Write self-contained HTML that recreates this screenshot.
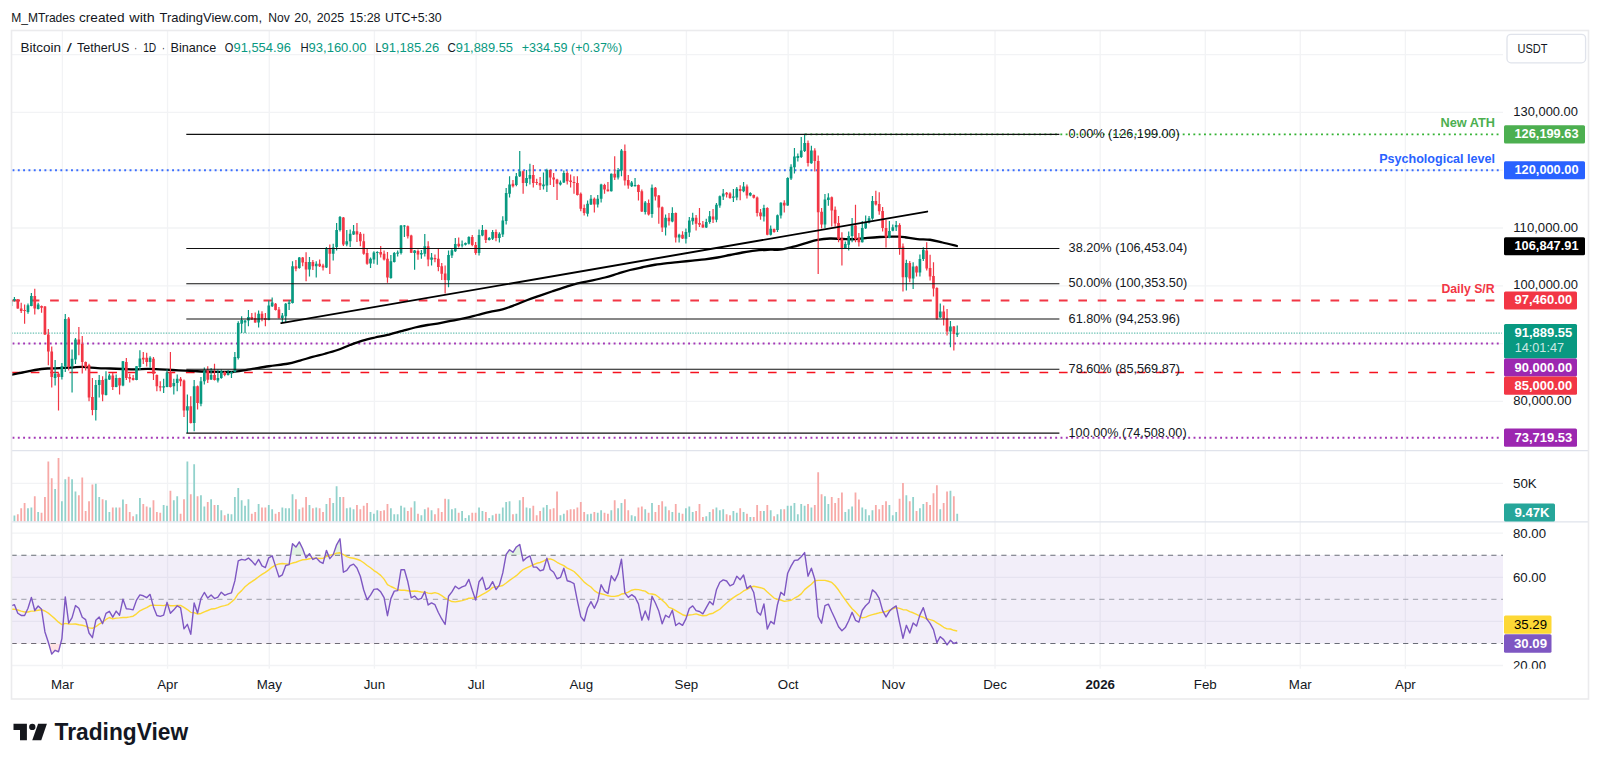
<!DOCTYPE html>
<html><head><meta charset="utf-8"><title>BTCUSDT chart</title>
<style>html,body{margin:0;padding:0;background:#fff;}body{width:1600px;height:766px;overflow:hidden;font-family:'Liberation Sans', sans-serif;}</style>
</head><body>
<svg width="1600" height="766" viewBox="0 0 1600 766" style="display:block"><rect x="0" y="0" width="1600" height="766" fill="#fff"/>
<path d="M62.40 30.5 V668.8 M167.53 30.5 V668.8 M269.28 30.5 V668.8 M374.41 30.5 V668.8 M476.15 30.5 V668.8 M581.28 30.5 V668.8 M686.42 30.5 V668.8 M788.16 30.5 V668.8 M893.29 30.5 V668.8 M995.03 30.5 V668.8 M1100.17 30.5 V668.8 M1205.30 30.5 V668.8 M1300.26 30.5 V668.8 M1405.39 30.5 V668.8 M11.5 401.39 H1503.0 M11.5 343.60 H1503.0 M11.5 285.81 H1503.0 M11.5 228.02 H1503.0 M11.5 170.23 H1503.0 M11.5 112.44 H1503.0 M11.5 54.65 H1503.0 M11.5 483.3 H1503.0 M11.5 533.20 H1503.0 M11.5 577.30 H1503.0 M11.5 621.40 H1503.0 M11.5 665.50 H1503.0" stroke="#f2f3f5" stroke-width="1.33" fill="none"/>
<rect x="11.5" y="555.25" width="1491.5" height="88.20" fill="#7e57c2" fill-opacity="0.1"/>
<path d="M11.5 555.25 H1503.0 M11.5 643.45 H1503.0" stroke="#6a6d78" stroke-width="1.15" stroke-dasharray="5.2 4.6" fill="none"/>
<path d="M11.5 599.35 H1503.0" stroke="#787b86" stroke-opacity="0.55" stroke-width="1.15" stroke-dasharray="5.2 4.6" fill="none"/>
<path d="M12.5 170.23 H1500" stroke="#2962ff" stroke-width="2.0" stroke-dasharray="1.9 3.42" stroke-opacity="0.92" fill="none"/>
<path d="M12.5 343.60 H1500" stroke="#9c27b0" stroke-width="2.0" stroke-dasharray="1.9 3.42" stroke-opacity="0.92" fill="none"/>
<path d="M12.5 437.68 H1500" stroke="#9c27b0" stroke-width="2.0" stroke-dasharray="1.9 3.42" stroke-opacity="0.92" fill="none"/>
<path d="M805 134.40 H1500" stroke="#22ab22" stroke-width="1.8" stroke-dasharray="1.9 3.42" stroke-opacity="0.92" fill="none"/>
<path d="M11.5 333.1 H1502" stroke="#089981" stroke-width="1.33" stroke-dasharray="1.33 1.33" stroke-opacity="0.62" fill="none"/>
<path d="M11.3 300.49 H1495" stroke="#f23645" stroke-width="2.15" stroke-dasharray="8.7 10.7" fill="none"/>
<path d="M11.3 372.50 H1495" stroke="#f5121f" stroke-width="1.35" stroke-dasharray="8.7 10.7" fill="none"/>
<defs><clipPath id="cp"><rect x="11.5" y="30.5" width="1491.5" height="638.3"/></clipPath></defs>
<g clip-path="url(#cp)">
<path d="M10.00 375.00 C12.08 374.58 18.33 373.33 22.50 372.50 C26.67 371.67 30.83 370.67 35.00 370.00 C39.17 369.33 43.33 368.80 47.50 368.50 C51.67 368.20 55.83 368.37 60.00 368.20 C64.17 368.03 68.75 367.72 72.50 367.50 C76.25 367.28 78.33 366.80 82.50 366.90 C86.67 367.00 92.92 367.83 97.50 368.10 C102.08 368.37 105.83 368.35 110.00 368.50 C114.17 368.65 118.33 368.85 122.50 369.00 C126.67 369.15 130.83 369.42 135.00 369.40 C139.17 369.38 143.33 368.90 147.50 368.90 C151.67 368.90 155.83 369.22 160.00 369.40 C164.17 369.58 168.33 369.80 172.50 370.00 C176.67 370.20 180.83 370.39 185.00 370.60 C189.17 370.81 193.42 371.08 197.50 371.25 C201.58 371.42 205.42 371.49 209.50 371.60 C213.58 371.71 217.75 371.88 222.00 371.90 C226.25 371.92 230.33 372.12 235.00 371.70 C239.67 371.28 244.38 370.31 250.00 369.40 C255.62 368.49 262.50 367.19 268.75 366.25 C275.00 365.31 282.29 364.69 287.50 363.75 C292.71 362.81 295.83 361.74 300.00 360.60 C304.17 359.46 308.33 358.04 312.50 356.90 C316.67 355.76 320.83 354.90 325.00 353.75 C329.17 352.60 333.33 351.46 337.50 350.00 C341.67 348.54 345.83 346.57 350.00 345.00 C354.17 343.43 358.33 341.85 362.50 340.60 C366.67 339.35 370.83 338.45 375.00 337.50 C379.17 336.55 382.92 336.02 387.50 334.90 C392.08 333.78 397.92 332.03 402.50 330.80 C407.08 329.57 410.83 328.47 415.00 327.50 C419.17 326.53 423.33 325.73 427.50 325.00 C431.67 324.27 435.83 323.83 440.00 323.10 C444.17 322.37 448.33 321.43 452.50 320.60 C456.67 319.77 460.83 319.03 465.00 318.10 C469.17 317.17 473.33 316.03 477.50 315.00 C481.67 313.97 485.83 312.83 490.00 311.90 C494.17 310.97 498.33 310.55 502.50 309.40 C506.67 308.25 510.83 306.57 515.00 305.00 C519.17 303.43 523.33 301.57 527.50 300.00 C531.67 298.43 535.83 297.06 540.00 295.60 C544.17 294.14 548.33 292.67 552.50 291.25 C556.67 289.83 560.83 288.41 565.00 287.10 C569.17 285.79 572.92 284.52 577.50 283.40 C582.08 282.28 587.92 281.38 592.50 280.40 C597.08 279.42 600.83 278.61 605.00 277.50 C609.17 276.39 613.33 275.00 617.50 273.75 C621.67 272.50 625.83 271.08 630.00 270.00 C634.17 268.92 638.33 268.12 642.50 267.25 C646.67 266.38 650.83 265.44 655.00 264.75 C659.17 264.06 663.33 263.58 667.50 263.10 C671.67 262.62 675.83 262.32 680.00 261.90 C684.17 261.48 688.33 261.02 692.50 260.60 C696.67 260.18 700.83 259.92 705.00 259.40 C709.17 258.88 713.33 258.23 717.50 257.50 C721.67 256.77 725.83 255.83 730.00 255.00 C734.17 254.17 738.33 253.23 742.50 252.50 C746.67 251.77 750.83 251.06 755.00 250.60 C759.17 250.14 763.33 249.93 767.50 249.75 C771.67 249.57 775.83 249.97 780.00 249.50 C784.17 249.03 788.33 247.92 792.50 246.90 C796.67 245.88 800.83 244.57 805.00 243.40 C809.17 242.23 813.33 240.72 817.50 239.90 C821.67 239.08 825.83 238.65 830.00 238.50 C834.17 238.35 838.33 238.88 842.50 239.00 C846.67 239.12 850.83 239.38 855.00 239.20 C859.17 239.02 863.33 238.27 867.50 237.90 C871.67 237.53 875.83 237.22 880.00 237.00 C884.17 236.78 889.33 236.67 892.50 236.60 C895.67 236.53 896.92 236.49 899.00 236.60 C901.08 236.71 901.92 236.83 905.00 237.25 C908.08 237.67 913.33 238.68 917.50 239.10 C921.67 239.52 925.83 239.18 930.00 239.75 C934.17 240.32 938.02 241.46 942.50 242.50 C946.98 243.54 954.50 245.42 956.90 246.00" stroke="#000" stroke-width="2.3" stroke-linecap="round" stroke-linejoin="round" fill="none"/>
<path d="M11.03 300.25 V305.90 M14.42 297.10 V301.50 M27.99 303.40 V313.75 M31.38 293.00 V306.25 M38.16 302.75 V309.60 M55.12 360.00 V385.60 M61.90 363.10 V379.40 M65.29 314.00 V371.90 M72.07 349.60 V392.50 M75.47 338.00 V364.00 M95.81 380.00 V420.60 M99.21 375.00 V397.50 M105.99 371.25 V395.60 M109.38 373.75 V380.00 M116.16 374.40 V387.25 M122.95 361.00 V386.25 M136.51 366.00 V380.25 M139.90 350.25 V370.00 M150.08 356.25 V367.75 M163.64 378.75 V393.10 M167.03 369.40 V387.25 M173.82 378.75 V394.40 M177.21 374.40 V391.25 M187.38 394.40 V433.10 M194.16 380.00 V431.25 M200.95 376.90 V406.25 M204.34 367.50 V384.40 M211.12 368.10 V380.00 M217.90 369.40 V382.50 M221.30 369.40 V378.75 M228.08 370.00 V375.60 M231.47 371.25 V378.10 M234.86 351.90 V372.50 M238.25 321.25 V359.40 M241.64 316.25 V333.10 M245.04 320.00 V333.10 M248.43 310.00 V326.25 M258.60 310.60 V327.50 M268.78 300.60 V320.25 M272.17 297.50 V306.90 M282.34 313.10 V321.90 M285.73 303.10 V321.90 M289.12 300.00 V310.00 M292.52 261.25 V303.50 M299.30 256.90 V268.75 M309.47 256.90 V276.50 M316.25 261.25 V277.50 M326.43 246.90 V268.10 M333.21 243.75 V260.60 M336.60 223.10 V250.60 M339.99 216.00 V231.50 M346.78 230.00 V246.25 M350.17 229.40 V246.90 M353.56 225.00 V235.00 M370.52 257.50 V268.10 M373.91 251.25 V263.75 M377.30 251.25 V264.75 M390.87 255.00 V278.75 M394.26 251.90 V262.50 M397.65 250.60 V256.50 M401.04 225.00 V254.40 M404.43 225.00 V236.90 M414.61 250.00 V269.75 M421.39 250.00 V258.75 M424.78 234.00 V256.50 M431.56 253.10 V265.60 M448.52 250.60 V287.20 M451.91 249.00 V258.10 M455.30 238.10 V252.00 M462.09 240.60 V247.50 M465.48 242.50 V245.60 M468.87 236.25 V244.40 M479.04 229.40 V255.60 M482.43 225.00 V236.25 M489.22 236.90 V240.60 M492.61 230.00 V240.00 M499.39 232.25 V242.50 M502.78 216.25 V236.90 M506.17 188.10 V224.40 M509.56 176.25 V197.50 M516.35 173.10 V186.25 M519.74 151.00 V176.90 M526.52 170.00 V186.25 M529.91 163.75 V184.40 M543.48 172.50 V189.40 M546.87 168.75 V191.90 M560.44 180.60 V185.60 M563.83 170.60 V183.10 M587.57 200.60 V216.50 M590.96 195.00 V205.00 M597.74 195.00 V207.50 M601.13 183.75 V202.50 M611.31 173.50 V191.50 M618.09 168.10 V179.40 M621.48 149.00 V176.25 M631.66 181.00 V187.00 M635.05 178.10 V186.50 M645.22 201.00 V214.40 M652.00 184.40 V217.75 M665.57 214.40 V235.60 M672.35 207.25 V222.25 M679.13 233.75 V242.50 M685.92 228.50 V243.50 M689.31 216.90 V236.90 M692.70 212.75 V224.75 M706.27 218.75 V228.10 M709.66 211.00 V223.75 M716.44 203.10 V222.25 M719.83 195.60 V207.75 M723.22 189.00 V200.00 M733.40 189.00 V201.90 M736.79 186.90 V200.25 M743.57 181.90 V192.25 M750.35 192.25 V196.25 M763.92 204.75 V221.50 M770.70 225.60 V235.60 M777.49 214.40 V231.90 M780.88 202.25 V218.50 M787.66 177.25 V205.75 M791.05 164.25 V179.90 M794.44 147.90 V173.50 M797.83 153.50 V161.60 M801.23 137.00 V157.90 M804.62 133.75 V152.00 M811.40 145.75 V163.75 M824.96 194.00 V228.00 M828.36 193.30 V205.80 M845.31 241.60 V248.25 M848.70 231.60 V250.40 M852.10 217.90 V242.25 M862.27 221.00 V242.50 M865.66 215.40 V229.10 M869.05 216.00 V223.50 M872.44 196.00 V219.75 M889.40 221.00 V238.25 M892.79 224.50 V231.25 M896.18 221.00 V231.00 M906.36 259.75 V290.40 M913.14 262.25 V289.10 M919.92 254.50 V276.60 M923.32 247.25 V261.00 M940.27 303.50 V317.90 M950.45 321.00 V347.25 M957.23 325.50 V337.00" stroke="#089981" stroke-width="1.2" fill="none"/>
<path d="M17.81 299.00 V308.75 M21.20 302.75 V313.00 M24.59 304.60 V323.75 M34.77 288.75 V314.60 M41.55 305.50 V312.75 M44.94 305.90 V335.00 M48.33 329.00 V365.25 M51.73 346.50 V387.50 M58.51 373.10 V410.60 M68.68 317.00 V370.60 M78.86 327.10 V355.25 M82.25 335.90 V373.60 M85.64 361.50 V370.60 M89.03 363.75 V401.25 M92.42 378.10 V415.25 M102.60 376.25 V401.25 M112.77 373.10 V390.00 M119.55 377.75 V394.40 M126.34 358.10 V380.00 M129.73 373.75 V382.50 M133.12 375.00 V380.60 M143.29 352.10 V364.00 M146.69 352.75 V366.50 M153.47 357.00 V380.00 M156.86 374.40 V391.25 M160.25 381.25 V391.25 M170.42 352.00 V387.50 M180.60 376.90 V386.25 M183.99 379.40 V416.90 M190.77 396.25 V423.50 M197.56 385.60 V409.40 M207.73 366.25 V383.10 M214.51 363.75 V380.60 M224.69 371.25 V376.25 M251.82 313.10 V320.00 M255.21 312.50 V322.75 M261.99 311.25 V321.25 M265.38 313.10 V326.25 M275.56 303.10 V310.60 M278.95 306.90 V318.75 M295.91 260.00 V271.25 M302.69 256.90 V266.25 M306.08 252.25 V281.25 M312.86 260.00 V270.00 M319.65 259.40 V266.90 M323.04 263.75 V270.60 M329.82 244.40 V274.00 M343.39 216.90 V246.00 M356.95 223.10 V241.90 M360.34 231.90 V246.25 M363.73 233.75 V254.75 M367.13 248.10 V264.75 M380.69 246.00 V257.50 M384.08 250.60 V260.60 M387.47 251.90 V282.75 M407.82 225.60 V238.50 M411.21 234.75 V253.10 M418.00 249.40 V259.75 M428.17 241.25 V266.25 M434.95 254.40 V262.25 M438.35 248.75 V271.25 M441.74 263.10 V280.00 M445.13 265.60 V293.40 M458.69 237.50 V247.50 M472.26 235.00 V246.25 M475.65 241.90 V254.75 M485.82 229.40 V243.10 M496.00 229.40 V241.25 M512.96 180.00 V187.50 M523.13 170.60 V193.75 M533.30 165.00 V187.50 M536.70 178.75 V185.00 M540.09 176.90 V190.00 M550.26 169.40 V185.00 M553.65 173.10 V186.90 M557.04 178.75 V200.00 M567.22 171.25 V184.40 M570.61 174.40 V187.50 M574.00 176.25 V193.75 M577.39 176.25 V195.60 M580.78 192.50 V211.25 M584.18 204.40 V215.60 M594.35 197.50 V212.50 M604.52 183.75 V193.75 M607.92 181.90 V191.50 M614.70 156.25 V180.00 M624.87 144.40 V185.60 M628.26 175.00 V188.75 M638.44 184.40 V200.60 M641.83 189.40 V211.90 M648.61 199.40 V215.60 M655.39 186.90 V200.60 M658.79 195.00 V223.75 M662.18 206.50 V231.90 M668.96 213.10 V225.60 M675.74 212.50 V242.50 M682.53 231.25 V239.00 M696.09 215.00 V230.60 M699.48 208.10 V226.90 M702.87 221.00 V227.75 M713.05 209.00 V223.10 M726.61 191.90 V197.50 M730.01 192.25 V198.75 M740.18 185.25 V200.25 M746.96 184.40 V198.50 M753.75 194.40 V198.50 M757.14 196.50 V216.50 M760.53 209.00 V219.75 M767.31 207.25 V235.25 M774.09 228.50 V232.75 M784.27 200.25 V212.50 M808.01 140.40 V166.60 M814.79 148.25 V171.60 M818.18 155.40 V274.10 M821.57 208.00 V228.60 M831.75 196.60 V226.60 M835.14 206.60 V226.60 M838.53 216.00 V242.25 M841.92 232.25 V265.40 M855.49 204.75 V242.25 M858.88 232.90 V246.60 M875.84 190.75 V205.40 M879.23 192.25 V214.75 M882.62 207.00 V231.60 M886.01 219.75 V247.50 M899.58 223.25 V254.75 M902.97 243.50 V291.60 M909.75 261.00 V282.25 M916.53 265.75 V276.60 M926.71 242.25 V270.40 M930.10 254.75 V280.40 M933.49 262.25 V296.60 M936.88 287.25 V319.75 M943.66 305.40 V325.40 M947.06 309.10 V335.40 M953.84 326.00 V350.40" stroke="#f23645" stroke-width="1.2" fill="none"/>
<path d="M9.69 300.25 h2.67 V305.90 h-2.67z M13.09 299.00 h2.67 V300.50 h-2.67z M26.65 305.25 h2.67 V312.10 h-2.67z M30.04 295.90 h2.67 V305.90 h-2.67z M36.83 304.60 h2.67 V309.00 h-2.67z M53.78 373.75 h2.67 V378.10 h-2.67z M60.56 366.25 h2.67 V376.90 h-2.67z M63.96 319.00 h2.67 V366.25 h-2.67z M70.74 358.75 h2.67 V366.25 h-2.67z M74.13 339.60 h2.67 V359.60 h-2.67z M94.48 385.00 h2.67 V410.00 h-2.67z M97.87 380.00 h2.67 V385.00 h-2.67z M104.65 378.75 h2.67 V395.00 h-2.67z M108.04 375.60 h2.67 V379.40 h-2.67z M114.83 378.10 h2.67 V386.90 h-2.67z M121.61 361.25 h2.67 V385.60 h-2.67z M135.18 366.25 h2.67 V380.00 h-2.67z M138.57 358.40 h2.67 V366.90 h-2.67z M148.74 357.75 h2.67 V362.10 h-2.67z M162.31 386.25 h2.67 V387.50 h-2.67z M165.70 372.50 h2.67 V386.90 h-2.67z M172.48 383.10 h2.67 V386.25 h-2.67z M175.87 378.75 h2.67 V383.10 h-2.67z M186.05 406.25 h2.67 V410.60 h-2.67z M192.83 386.25 h2.67 V423.10 h-2.67z M199.61 381.25 h2.67 V403.75 h-2.67z M203.00 371.25 h2.67 V381.25 h-2.67z M209.79 375.00 h2.67 V379.40 h-2.67z M216.57 378.10 h2.67 V380.60 h-2.67z M219.96 371.25 h2.67 V378.10 h-2.67z M226.74 373.10 h2.67 V375.00 h-2.67z M230.13 371.90 h2.67 V373.50 h-2.67z M233.53 356.90 h2.67 V371.90 h-2.67z M236.92 323.10 h2.67 V358.10 h-2.67z M240.31 320.00 h2.67 V323.75 h-2.67z M243.70 320.60 h2.67 V322.50 h-2.67z M247.09 316.90 h2.67 V320.60 h-2.67z M257.27 313.75 h2.67 V322.50 h-2.67z M267.44 305.60 h2.67 V320.00 h-2.67z M270.83 302.50 h2.67 V306.25 h-2.67z M281.01 315.60 h2.67 V318.10 h-2.67z M284.40 303.75 h2.67 V316.25 h-2.67z M287.79 302.50 h2.67 V304.00 h-2.67z M291.18 266.25 h2.67 V303.10 h-2.67z M297.96 257.50 h2.67 V268.10 h-2.67z M308.14 261.90 h2.67 V269.40 h-2.67z M314.92 263.75 h2.67 V266.25 h-2.67z M325.09 248.10 h2.67 V267.50 h-2.67z M331.88 247.50 h2.67 V253.75 h-2.67z M335.27 230.00 h2.67 V246.90 h-2.67z M338.66 216.90 h2.67 V230.00 h-2.67z M345.44 241.25 h2.67 V244.40 h-2.67z M348.83 233.75 h2.67 V241.25 h-2.67z M352.23 231.25 h2.67 V234.40 h-2.67z M369.18 258.75 h2.67 V263.50 h-2.67z M372.57 252.50 h2.67 V259.40 h-2.67z M375.97 251.90 h2.67 V253.10 h-2.67z M389.53 261.25 h2.67 V278.10 h-2.67z M392.92 253.10 h2.67 V261.90 h-2.67z M396.31 252.50 h2.67 V253.75 h-2.67z M399.70 225.60 h2.67 V253.10 h-2.67z M403.10 225.60 h2.67 V226.60 h-2.67z M413.27 250.60 h2.67 V253.10 h-2.67z M420.05 253.10 h2.67 V254.60 h-2.67z M423.44 246.25 h2.67 V253.75 h-2.67z M430.23 257.50 h2.67 V259.75 h-2.67z M447.18 255.00 h2.67 V280.30 h-2.67z M450.58 250.30 h2.67 V255.60 h-2.67z M453.97 244.00 h2.67 V251.25 h-2.67z M460.75 244.40 h2.67 V245.60 h-2.67z M464.14 243.10 h2.67 V244.75 h-2.67z M467.53 236.90 h2.67 V243.75 h-2.67z M477.71 235.00 h2.67 V253.10 h-2.67z M481.10 230.00 h2.67 V235.60 h-2.67z M487.88 238.10 h2.67 V240.00 h-2.67z M491.27 231.90 h2.67 V238.75 h-2.67z M498.06 233.75 h2.67 V238.10 h-2.67z M501.45 220.60 h2.67 V234.40 h-2.67z M504.84 193.10 h2.67 V221.00 h-2.67z M508.23 184.40 h2.67 V193.75 h-2.67z M515.01 176.25 h2.67 V185.00 h-2.67z M518.40 171.25 h2.67 V176.25 h-2.67z M525.19 178.10 h2.67 V183.10 h-2.67z M528.58 175.00 h2.67 V178.75 h-2.67z M542.14 184.40 h2.67 V186.25 h-2.67z M545.54 170.00 h2.67 V185.60 h-2.67z M559.10 182.50 h2.67 V184.40 h-2.67z M562.49 173.10 h2.67 V182.50 h-2.67z M586.23 203.75 h2.67 V213.75 h-2.67z M589.62 198.75 h2.67 V204.40 h-2.67z M596.41 198.75 h2.67 V204.40 h-2.67z M599.80 184.40 h2.67 V198.75 h-2.67z M609.97 173.75 h2.67 V191.25 h-2.67z M616.75 170.00 h2.67 V177.50 h-2.67z M620.15 150.60 h2.67 V170.60 h-2.67z M630.32 182.50 h2.67 V186.25 h-2.67z M633.71 185.00 h2.67 V186.25 h-2.67z M643.89 202.50 h2.67 V211.90 h-2.67z M650.67 187.75 h2.67 V214.00 h-2.67z M664.23 217.75 h2.67 V227.50 h-2.67z M671.02 213.10 h2.67 V221.50 h-2.67z M677.80 234.75 h2.67 V237.50 h-2.67z M684.58 231.90 h2.67 V238.75 h-2.67z M687.97 220.60 h2.67 V232.50 h-2.67z M691.37 217.75 h2.67 V221.25 h-2.67z M704.93 221.90 h2.67 V227.50 h-2.67z M708.32 216.25 h2.67 V221.90 h-2.67z M715.11 204.75 h2.67 V219.75 h-2.67z M718.50 196.25 h2.67 V205.60 h-2.67z M721.89 193.50 h2.67 V196.50 h-2.67z M732.06 196.50 h2.67 V197.75 h-2.67z M735.45 188.75 h2.67 V197.50 h-2.67z M742.24 186.50 h2.67 V191.25 h-2.67z M749.02 193.10 h2.67 V195.60 h-2.67z M762.58 208.10 h2.67 V216.50 h-2.67z M769.37 228.75 h2.67 V234.75 h-2.67z M776.15 215.25 h2.67 V230.00 h-2.67z M779.54 202.75 h2.67 V215.60 h-2.67z M786.32 178.00 h2.67 V205.40 h-2.67z M789.72 166.75 h2.67 V178.60 h-2.67z M793.11 156.60 h2.67 V167.25 h-2.67z M796.50 156.00 h2.67 V157.90 h-2.67z M799.89 150.40 h2.67 V157.00 h-2.67z M803.28 142.90 h2.67 V151.00 h-2.67z M810.06 150.40 h2.67 V163.25 h-2.67z M823.63 199.60 h2.67 V224.60 h-2.67z M827.02 197.40 h2.67 V199.90 h-2.67z M843.98 244.10 h2.67 V247.90 h-2.67z M847.37 236.00 h2.67 V244.75 h-2.67z M850.76 225.40 h2.67 V236.00 h-2.67z M860.94 227.90 h2.67 V242.25 h-2.67z M864.33 222.25 h2.67 V228.25 h-2.67z M867.72 218.25 h2.67 V222.50 h-2.67z M871.11 201.00 h2.67 V218.50 h-2.67z M888.07 231.00 h2.67 V237.90 h-2.67z M891.46 227.25 h2.67 V230.75 h-2.67z M894.85 225.00 h2.67 V227.25 h-2.67z M905.02 262.90 h2.67 V277.25 h-2.67z M911.81 266.60 h2.67 V278.50 h-2.67z M918.59 259.10 h2.67 V272.50 h-2.67z M921.98 249.75 h2.67 V259.10 h-2.67z M938.94 311.60 h2.67 V317.25 h-2.67z M949.11 326.60 h2.67 V331.60 h-2.67z M955.89 332.90 h2.67 V334.80 h-2.67z" fill="#089981"/>
<path d="M16.48 299.60 h2.67 V308.40 h-2.67z M19.87 308.40 h2.67 V310.90 h-2.67z M23.26 309.95 h2.67 V310.95 h-2.67z M33.43 295.90 h2.67 V308.40 h-2.67z M40.22 305.90 h2.67 V307.75 h-2.67z M43.61 306.50 h2.67 V334.60 h-2.67z M47.00 334.60 h2.67 V351.50 h-2.67z M50.39 351.50 h2.67 V376.90 h-2.67z M57.17 373.75 h2.67 V376.90 h-2.67z M67.35 318.40 h2.67 V366.90 h-2.67z M77.52 339.60 h2.67 V344.60 h-2.67z M80.91 344.00 h2.67 V362.10 h-2.67z M84.30 362.00 h2.67 V367.00 h-2.67z M87.70 365.00 h2.67 V397.50 h-2.67z M91.09 396.90 h2.67 V410.00 h-2.67z M101.26 380.00 h2.67 V394.40 h-2.67z M111.44 375.60 h2.67 V386.90 h-2.67z M118.22 378.10 h2.67 V385.60 h-2.67z M125.00 361.90 h2.67 V378.10 h-2.67z M128.39 376.90 h2.67 V378.75 h-2.67z M131.78 378.10 h2.67 V380.00 h-2.67z M141.96 357.75 h2.67 V359.60 h-2.67z M145.35 357.75 h2.67 V362.10 h-2.67z M152.13 358.75 h2.67 V373.75 h-2.67z M155.52 375.00 h2.67 V386.25 h-2.67z M158.92 386.25 h2.67 V387.50 h-2.67z M169.09 371.90 h2.67 V386.90 h-2.67z M179.26 378.75 h2.67 V381.25 h-2.67z M182.66 380.60 h2.67 V410.60 h-2.67z M189.44 406.25 h2.67 V423.10 h-2.67z M196.22 386.25 h2.67 V403.10 h-2.67z M206.40 370.60 h2.67 V379.70 h-2.67z M213.18 375.00 h2.67 V380.00 h-2.67z M223.35 371.90 h2.67 V375.00 h-2.67z M250.48 316.90 h2.67 V319.40 h-2.67z M253.87 318.10 h2.67 V322.50 h-2.67z M260.66 313.75 h2.67 V318.75 h-2.67z M264.05 318.10 h2.67 V320.00 h-2.67z M274.22 303.75 h2.67 V310.00 h-2.67z M277.61 309.40 h2.67 V318.10 h-2.67z M294.57 266.25 h2.67 V268.75 h-2.67z M301.35 257.50 h2.67 V262.50 h-2.67z M304.75 261.90 h2.67 V269.40 h-2.67z M311.53 261.90 h2.67 V266.25 h-2.67z M318.31 263.75 h2.67 V266.25 h-2.67z M321.70 265.60 h2.67 V267.50 h-2.67z M328.49 248.75 h2.67 V253.75 h-2.67z M342.05 217.50 h2.67 V244.40 h-2.67z M355.62 231.25 h2.67 V234.40 h-2.67z M359.01 233.75 h2.67 V241.25 h-2.67z M362.40 241.25 h2.67 V253.75 h-2.67z M365.79 253.10 h2.67 V263.75 h-2.67z M379.36 251.90 h2.67 V254.40 h-2.67z M382.75 253.75 h2.67 V259.40 h-2.67z M386.14 258.75 h2.67 V277.50 h-2.67z M406.49 226.25 h2.67 V236.25 h-2.67z M409.88 235.60 h2.67 V252.75 h-2.67z M416.66 251.00 h2.67 V254.40 h-2.67z M426.84 246.25 h2.67 V259.40 h-2.67z M433.62 258.10 h2.67 V259.20 h-2.67z M437.01 258.75 h2.67 V266.90 h-2.67z M440.40 266.25 h2.67 V273.75 h-2.67z M443.79 273.50 h2.67 V280.00 h-2.67z M457.36 243.75 h2.67 V246.25 h-2.67z M470.92 236.90 h2.67 V245.00 h-2.67z M474.32 245.00 h2.67 V253.10 h-2.67z M484.49 230.00 h2.67 V240.00 h-2.67z M494.66 231.90 h2.67 V238.10 h-2.67z M511.62 183.75 h2.67 V186.25 h-2.67z M521.80 171.25 h2.67 V183.10 h-2.67z M531.97 175.00 h2.67 V183.10 h-2.67z M535.36 181.90 h2.67 V183.10 h-2.67z M538.75 183.10 h2.67 V185.60 h-2.67z M548.93 170.00 h2.67 V177.50 h-2.67z M552.32 177.50 h2.67 V179.40 h-2.67z M555.71 179.40 h2.67 V183.75 h-2.67z M565.88 173.10 h2.67 V181.25 h-2.67z M569.27 180.60 h2.67 V181.90 h-2.67z M572.67 181.90 h2.67 V183.10 h-2.67z M576.06 183.10 h2.67 V195.00 h-2.67z M579.45 193.75 h2.67 V208.75 h-2.67z M582.84 208.10 h2.67 V213.10 h-2.67z M593.01 198.75 h2.67 V204.40 h-2.67z M603.19 185.00 h2.67 V189.40 h-2.67z M606.58 189.40 h2.67 V191.25 h-2.67z M613.36 173.75 h2.67 V177.50 h-2.67z M623.54 151.00 h2.67 V180.60 h-2.67z M626.93 180.00 h2.67 V185.60 h-2.67z M637.10 185.00 h2.67 V191.90 h-2.67z M640.49 191.25 h2.67 V211.50 h-2.67z M647.28 203.10 h2.67 V214.40 h-2.67z M654.06 187.75 h2.67 V196.50 h-2.67z M657.45 195.60 h2.67 V207.50 h-2.67z M660.84 207.25 h2.67 V227.50 h-2.67z M667.63 217.75 h2.67 V221.25 h-2.67z M674.41 213.10 h2.67 V237.50 h-2.67z M681.19 234.75 h2.67 V238.50 h-2.67z M694.76 217.75 h2.67 V223.75 h-2.67z M698.15 223.10 h2.67 V224.75 h-2.67z M701.54 224.40 h2.67 V227.50 h-2.67z M711.71 216.50 h2.67 V219.40 h-2.67z M725.28 192.75 h2.67 V194.40 h-2.67z M728.67 193.50 h2.67 V198.10 h-2.67z M738.84 189.00 h2.67 V191.00 h-2.67z M745.63 186.50 h2.67 V195.60 h-2.67z M752.41 195.00 h2.67 V197.75 h-2.67z M755.80 197.50 h2.67 V213.10 h-2.67z M759.19 212.50 h2.67 V216.25 h-2.67z M765.98 208.10 h2.67 V234.75 h-2.67z M772.76 229.00 h2.67 V231.90 h-2.67z M782.93 202.75 h2.67 V205.60 h-2.67z M806.67 142.90 h2.67 V162.90 h-2.67z M813.46 150.40 h2.67 V161.00 h-2.67z M816.85 161.00 h2.67 V212.25 h-2.67z M820.24 211.70 h2.67 V224.60 h-2.67z M830.41 197.25 h2.67 V210.40 h-2.67z M833.80 209.75 h2.67 V223.50 h-2.67z M837.20 222.90 h2.67 V239.10 h-2.67z M840.59 238.50 h2.67 V247.90 h-2.67z M854.15 225.40 h2.67 V239.10 h-2.67z M857.54 237.90 h2.67 V242.25 h-2.67z M874.50 201.00 h2.67 V204.60 h-2.67z M877.89 204.10 h2.67 V211.30 h-2.67z M881.28 211.00 h2.67 V227.90 h-2.67z M884.68 227.90 h2.67 V237.25 h-2.67z M898.24 225.00 h2.67 V247.90 h-2.67z M901.63 246.60 h2.67 V277.25 h-2.67z M908.41 262.90 h2.67 V278.50 h-2.67z M915.20 266.60 h2.67 V272.50 h-2.67z M925.37 250.40 h2.67 V268.50 h-2.67z M928.76 267.90 h2.67 V276.60 h-2.67z M932.15 276.00 h2.67 V288.50 h-2.67z M935.55 287.90 h2.67 V318.50 h-2.67z M942.33 311.60 h2.67 V318.50 h-2.67z M945.72 318.50 h2.67 V331.60 h-2.67z M952.50 326.60 h2.67 V334.10 h-2.67z" fill="#f23645"/>
<path d="M186.3 134.41 H1059.4" stroke="#111" stroke-width="1.15" fill="none"/>
<text x="1068.6" y="138.01" font-family="'Liberation Sans', sans-serif" font-size="13.3" fill="#131722" textLength="111.2" lengthAdjust="spacingAndGlyphs">0.00% (126,199.00)</text>
<path d="M186.3 248.52 H1059.4" stroke="#111" stroke-width="1.15" fill="none"/>
<text x="1068.6" y="252.12" font-family="'Liberation Sans', sans-serif" font-size="13.3" fill="#131722" textLength="118.6" lengthAdjust="spacingAndGlyphs">38.20% (106,453.04)</text>
<path d="M186.3 283.77 H1059.4" stroke="#111" stroke-width="1.15" fill="none"/>
<text x="1068.6" y="287.37" font-family="'Liberation Sans', sans-serif" font-size="13.3" fill="#131722" textLength="118.6" lengthAdjust="spacingAndGlyphs">50.00% (100,353.50)</text>
<path d="M186.3 319.02 H1059.4" stroke="#111" stroke-width="1.15" fill="none"/>
<text x="1068.6" y="322.62" font-family="'Liberation Sans', sans-serif" font-size="13.3" fill="#131722" textLength="111.4" lengthAdjust="spacingAndGlyphs">61.80% (94,253.96)</text>
<path d="M186.3 369.20 H1059.4" stroke="#111" stroke-width="1.15" fill="none"/>
<text x="1068.6" y="372.80" font-family="'Liberation Sans', sans-serif" font-size="13.3" fill="#131722" textLength="111.4" lengthAdjust="spacingAndGlyphs">78.60% (85,569.87)</text>
<path d="M186.3 433.13 H1059.4" stroke="#111" stroke-width="1.15" fill="none"/>
<text x="1068.6" y="436.73" font-family="'Liberation Sans', sans-serif" font-size="13.3" fill="#131722" textLength="118.0" lengthAdjust="spacingAndGlyphs">100.00% (74,508.00)</text>
<path d="M281.25 323.1 L927.2 211.6" stroke="#000" stroke-width="1.95" stroke-linecap="round" fill="none"/>
<path d="M13.52 521.4 v-5.88 h1.8 V521.4z M27.09 521.4 v-13.12 h1.8 V521.4z M30.48 521.4 v-14.00 h1.8 V521.4z M37.26 521.4 v-9.38 h1.8 V521.4z M54.22 521.4 v-32.38 h1.8 V521.4z M61.00 521.4 v-20.25 h1.8 V521.4z M64.39 521.4 v-42.12 h1.8 V521.4z M71.17 521.4 v-42.12 h1.8 V521.4z M74.57 521.4 v-29.88 h1.8 V521.4z M94.91 521.4 v-37.75 h1.8 V521.4z M98.31 521.4 v-24.38 h1.8 V521.4z M105.09 521.4 v-21.12 h1.8 V521.4z M108.48 521.4 v-9.38 h1.8 V521.4z M115.26 521.4 v-14.00 h1.8 V521.4z M122.05 521.4 v-21.88 h1.8 V521.4z M135.61 521.4 v-7.12 h1.8 V521.4z M139.00 521.4 v-23.38 h1.8 V521.4z M149.18 521.4 v-14.00 h1.8 V521.4z M162.74 521.4 v-16.50 h1.8 V521.4z M166.13 521.4 v-15.62 h1.8 V521.4z M172.92 521.4 v-21.12 h1.8 V521.4z M176.31 521.4 v-25.25 h1.8 V521.4z M186.48 521.4 v-59.88 h1.8 V521.4z M193.26 521.4 v-57.12 h1.8 V521.4z M200.05 521.4 v-26.12 h1.8 V521.4z M203.44 521.4 v-14.88 h1.8 V521.4z M210.22 521.4 v-22.12 h1.8 V521.4z M217.00 521.4 v-16.50 h1.8 V521.4z M220.40 521.4 v-11.25 h1.8 V521.4z M227.18 521.4 v-7.75 h1.8 V521.4z M230.57 521.4 v-7.12 h1.8 V521.4z M233.96 521.4 v-24.38 h1.8 V521.4z M237.35 521.4 v-33.38 h1.8 V521.4z M240.74 521.4 v-21.12 h1.8 V521.4z M244.14 521.4 v-15.62 h1.8 V521.4z M247.53 521.4 v-22.12 h1.8 V521.4z M257.70 521.4 v-17.38 h1.8 V521.4z M267.88 521.4 v-16.50 h1.8 V521.4z M271.27 521.4 v-12.12 h1.8 V521.4z M281.44 521.4 v-14.00 h1.8 V521.4z M284.83 521.4 v-13.12 h1.8 V521.4z M288.22 521.4 v-13.12 h1.8 V521.4z M291.62 521.4 v-27.12 h1.8 V521.4z M298.40 521.4 v-12.12 h1.8 V521.4z M308.57 521.4 v-16.50 h1.8 V521.4z M315.36 521.4 v-14.00 h1.8 V521.4z M325.53 521.4 v-17.38 h1.8 V521.4z M332.31 521.4 v-18.38 h1.8 V521.4z M335.70 521.4 v-35.25 h1.8 V521.4z M339.09 521.4 v-24.38 h1.8 V521.4z M345.88 521.4 v-13.12 h1.8 V521.4z M349.27 521.4 v-14.00 h1.8 V521.4z M352.66 521.4 v-12.12 h1.8 V521.4z M369.62 521.4 v-9.38 h1.8 V521.4z M373.01 521.4 v-7.75 h1.8 V521.4z M376.40 521.4 v-11.25 h1.8 V521.4z M389.97 521.4 v-13.12 h1.8 V521.4z M393.36 521.4 v-7.12 h1.8 V521.4z M396.75 521.4 v-7.12 h1.8 V521.4z M400.14 521.4 v-15.62 h1.8 V521.4z M403.53 521.4 v-14.00 h1.8 V521.4z M413.71 521.4 v-20.25 h1.8 V521.4z M420.49 521.4 v-6.12 h1.8 V521.4z M423.88 521.4 v-12.12 h1.8 V521.4z M430.66 521.4 v-11.25 h1.8 V521.4z M447.62 521.4 v-22.12 h1.8 V521.4z M451.01 521.4 v-12.12 h1.8 V521.4z M454.40 521.4 v-13.12 h1.8 V521.4z M461.19 521.4 v-10.50 h1.8 V521.4z M464.58 521.4 v-3.38 h1.8 V521.4z M467.97 521.4 v-6.12 h1.8 V521.4z M478.14 521.4 v-14.00 h1.8 V521.4z M481.53 521.4 v-10.50 h1.8 V521.4z M488.32 521.4 v-3.38 h1.8 V521.4z M491.71 521.4 v-6.12 h1.8 V521.4z M498.49 521.4 v-7.75 h1.8 V521.4z M501.88 521.4 v-14.00 h1.8 V521.4z M505.27 521.4 v-19.38 h1.8 V521.4z M508.66 521.4 v-20.25 h1.8 V521.4z M515.45 521.4 v-7.75 h1.8 V521.4z M518.84 521.4 v-21.12 h1.8 V521.4z M525.62 521.4 v-14.00 h1.8 V521.4z M529.01 521.4 v-13.12 h1.8 V521.4z M542.58 521.4 v-14.00 h1.8 V521.4z M545.97 521.4 v-16.50 h1.8 V521.4z M559.54 521.4 v-6.12 h1.8 V521.4z M562.93 521.4 v-7.75 h1.8 V521.4z M586.67 521.4 v-7.12 h1.8 V521.4z M590.06 521.4 v-7.75 h1.8 V521.4z M596.84 521.4 v-8.62 h1.8 V521.4z M600.23 521.4 v-11.25 h1.8 V521.4z M610.41 521.4 v-11.25 h1.8 V521.4z M617.19 521.4 v-13.12 h1.8 V521.4z M620.58 521.4 v-18.38 h1.8 V521.4z M630.76 521.4 v-6.12 h1.8 V521.4z M634.15 521.4 v-5.25 h1.8 V521.4z M644.32 521.4 v-12.12 h1.8 V521.4z M651.10 521.4 v-18.38 h1.8 V521.4z M664.67 521.4 v-14.88 h1.8 V521.4z M671.45 521.4 v-9.38 h1.8 V521.4z M678.23 521.4 v-8.62 h1.8 V521.4z M685.02 521.4 v-13.12 h1.8 V521.4z M688.41 521.4 v-14.88 h1.8 V521.4z M691.80 521.4 v-9.38 h1.8 V521.4z M705.37 521.4 v-5.25 h1.8 V521.4z M708.76 521.4 v-9.38 h1.8 V521.4z M715.54 521.4 v-14.00 h1.8 V521.4z M718.93 521.4 v-11.25 h1.8 V521.4z M722.32 521.4 v-12.12 h1.8 V521.4z M732.50 521.4 v-10.50 h1.8 V521.4z M735.89 521.4 v-8.62 h1.8 V521.4z M742.67 521.4 v-9.38 h1.8 V521.4z M749.45 521.4 v-4.38 h1.8 V521.4z M763.02 521.4 v-10.50 h1.8 V521.4z M769.80 521.4 v-11.25 h1.8 V521.4z M776.59 521.4 v-7.12 h1.8 V521.4z M779.98 521.4 v-12.12 h1.8 V521.4z M786.76 521.4 v-15.62 h1.8 V521.4z M790.15 521.4 v-15.62 h1.8 V521.4z M793.54 521.4 v-18.38 h1.8 V521.4z M796.93 521.4 v-7.12 h1.8 V521.4z M800.33 521.4 v-17.38 h1.8 V521.4z M803.72 521.4 v-15.62 h1.8 V521.4z M810.50 521.4 v-14.00 h1.8 V521.4z M824.06 521.4 v-25.25 h1.8 V521.4z M827.46 521.4 v-17.38 h1.8 V521.4z M844.41 521.4 v-9.38 h1.8 V521.4z M847.80 521.4 v-12.12 h1.8 V521.4z M851.20 521.4 v-14.88 h1.8 V521.4z M861.37 521.4 v-14.00 h1.8 V521.4z M864.76 521.4 v-12.12 h1.8 V521.4z M868.15 521.4 v-6.12 h1.8 V521.4z M871.54 521.4 v-11.25 h1.8 V521.4z M888.50 521.4 v-16.50 h1.8 V521.4z M891.89 521.4 v-6.12 h1.8 V521.4z M895.28 521.4 v-9.38 h1.8 V521.4z M905.46 521.4 v-26.12 h1.8 V521.4z M912.24 521.4 v-24.38 h1.8 V521.4z M919.02 521.4 v-13.12 h1.8 V521.4z M922.42 521.4 v-17.38 h1.8 V521.4z M939.37 521.4 v-12.12 h1.8 V521.4z M949.55 521.4 v-30.62 h1.8 V521.4z M956.33 521.4 v-7.75 h1.8 V521.4z" fill="#92d2cc"/>
<path d="M16.91 521.4 v-7.12 h1.8 V521.4z M20.30 521.4 v-13.12 h1.8 V521.4z M23.69 521.4 v-18.38 h1.8 V521.4z M33.87 521.4 v-25.25 h1.8 V521.4z M40.65 521.4 v-8.62 h1.8 V521.4z M44.04 521.4 v-24.38 h1.8 V521.4z M47.43 521.4 v-59.88 h1.8 V521.4z M50.83 521.4 v-43.12 h1.8 V521.4z M57.61 521.4 v-63.38 h1.8 V521.4z M67.78 521.4 v-44.62 h1.8 V521.4z M77.96 521.4 v-26.12 h1.8 V521.4z M81.35 521.4 v-44.00 h1.8 V521.4z M84.74 521.4 v-10.50 h1.8 V521.4z M88.13 521.4 v-20.25 h1.8 V521.4z M91.52 521.4 v-36.88 h1.8 V521.4z M101.70 521.4 v-22.12 h1.8 V521.4z M111.87 521.4 v-14.00 h1.8 V521.4z M118.65 521.4 v-14.00 h1.8 V521.4z M125.44 521.4 v-17.38 h1.8 V521.4z M128.83 521.4 v-9.38 h1.8 V521.4z M132.22 521.4 v-5.25 h1.8 V521.4z M142.39 521.4 v-17.38 h1.8 V521.4z M145.78 521.4 v-14.88 h1.8 V521.4z M152.57 521.4 v-21.12 h1.8 V521.4z M155.96 521.4 v-9.38 h1.8 V521.4z M159.35 521.4 v-8.62 h1.8 V521.4z M169.52 521.4 v-30.62 h1.8 V521.4z M179.70 521.4 v-7.75 h1.8 V521.4z M183.09 521.4 v-22.12 h1.8 V521.4z M189.87 521.4 v-27.12 h1.8 V521.4z M196.66 521.4 v-25.25 h1.8 V521.4z M206.83 521.4 v-19.38 h1.8 V521.4z M213.61 521.4 v-16.50 h1.8 V521.4z M223.79 521.4 v-6.12 h1.8 V521.4z M250.92 521.4 v-7.75 h1.8 V521.4z M254.31 521.4 v-9.38 h1.8 V521.4z M261.09 521.4 v-14.00 h1.8 V521.4z M264.48 521.4 v-14.00 h1.8 V521.4z M274.66 521.4 v-7.75 h1.8 V521.4z M278.05 521.4 v-9.38 h1.8 V521.4z M295.01 521.4 v-22.12 h1.8 V521.4z M301.79 521.4 v-14.00 h1.8 V521.4z M305.18 521.4 v-24.38 h1.8 V521.4z M311.96 521.4 v-13.12 h1.8 V521.4z M318.75 521.4 v-13.12 h1.8 V521.4z M322.14 521.4 v-9.38 h1.8 V521.4z M328.92 521.4 v-23.38 h1.8 V521.4z M342.49 521.4 v-24.38 h1.8 V521.4z M356.05 521.4 v-16.50 h1.8 V521.4z M359.44 521.4 v-12.12 h1.8 V521.4z M362.83 521.4 v-15.62 h1.8 V521.4z M366.23 521.4 v-18.38 h1.8 V521.4z M379.79 521.4 v-10.50 h1.8 V521.4z M383.18 521.4 v-11.25 h1.8 V521.4z M386.57 521.4 v-17.38 h1.8 V521.4z M406.92 521.4 v-10.50 h1.8 V521.4z M410.31 521.4 v-14.00 h1.8 V521.4z M417.10 521.4 v-7.75 h1.8 V521.4z M427.27 521.4 v-14.00 h1.8 V521.4z M434.05 521.4 v-7.12 h1.8 V521.4z M437.45 521.4 v-13.12 h1.8 V521.4z M440.84 521.4 v-9.38 h1.8 V521.4z M444.23 521.4 v-22.75 h1.8 V521.4z M457.79 521.4 v-8.62 h1.8 V521.4z M471.36 521.4 v-8.62 h1.8 V521.4z M474.75 521.4 v-8.62 h1.8 V521.4z M484.93 521.4 v-9.38 h1.8 V521.4z M495.10 521.4 v-7.75 h1.8 V521.4z M512.06 521.4 v-7.12 h1.8 V521.4z M522.23 521.4 v-24.38 h1.8 V521.4z M532.40 521.4 v-15.62 h1.8 V521.4z M535.80 521.4 v-6.12 h1.8 V521.4z M539.19 521.4 v-10.50 h1.8 V521.4z M549.36 521.4 v-12.12 h1.8 V521.4z M552.75 521.4 v-13.12 h1.8 V521.4z M556.14 521.4 v-29.88 h1.8 V521.4z M566.32 521.4 v-11.25 h1.8 V521.4z M569.71 521.4 v-12.12 h1.8 V521.4z M573.10 521.4 v-12.12 h1.8 V521.4z M576.49 521.4 v-14.00 h1.8 V521.4z M579.88 521.4 v-19.38 h1.8 V521.4z M583.28 521.4 v-9.38 h1.8 V521.4z M593.45 521.4 v-9.38 h1.8 V521.4z M603.62 521.4 v-8.62 h1.8 V521.4z M607.02 521.4 v-7.75 h1.8 V521.4z M613.80 521.4 v-21.12 h1.8 V521.4z M623.97 521.4 v-22.12 h1.8 V521.4z M627.36 521.4 v-11.25 h1.8 V521.4z M637.54 521.4 v-14.00 h1.8 V521.4z M640.93 521.4 v-14.88 h1.8 V521.4z M647.71 521.4 v-8.62 h1.8 V521.4z M654.50 521.4 v-9.38 h1.8 V521.4z M657.89 521.4 v-16.50 h1.8 V521.4z M661.28 521.4 v-20.25 h1.8 V521.4z M668.06 521.4 v-11.25 h1.8 V521.4z M674.84 521.4 v-17.38 h1.8 V521.4z M681.63 521.4 v-7.75 h1.8 V521.4z M695.19 521.4 v-10.50 h1.8 V521.4z M698.58 521.4 v-17.38 h1.8 V521.4z M701.97 521.4 v-4.38 h1.8 V521.4z M712.15 521.4 v-12.12 h1.8 V521.4z M725.71 521.4 v-7.12 h1.8 V521.4z M729.11 521.4 v-6.12 h1.8 V521.4z M739.28 521.4 v-13.12 h1.8 V521.4z M746.06 521.4 v-7.75 h1.8 V521.4z M752.85 521.4 v-4.38 h1.8 V521.4z M756.24 521.4 v-16.50 h1.8 V521.4z M759.63 521.4 v-10.50 h1.8 V521.4z M766.41 521.4 v-16.50 h1.8 V521.4z M773.19 521.4 v-5.25 h1.8 V521.4z M783.37 521.4 v-12.12 h1.8 V521.4z M807.11 521.4 v-17.38 h1.8 V521.4z M813.89 521.4 v-16.50 h1.8 V521.4z M817.28 521.4 v-49.25 h1.8 V521.4z M820.67 521.4 v-27.12 h1.8 V521.4z M830.85 521.4 v-24.38 h1.8 V521.4z M834.24 521.4 v-18.38 h1.8 V521.4z M837.63 521.4 v-23.38 h1.8 V521.4z M841.02 521.4 v-29.00 h1.8 V521.4z M854.59 521.4 v-29.00 h1.8 V521.4z M857.98 521.4 v-21.88 h1.8 V521.4z M874.94 521.4 v-16.50 h1.8 V521.4z M878.33 521.4 v-12.12 h1.8 V521.4z M881.72 521.4 v-16.50 h1.8 V521.4z M885.11 521.4 v-20.25 h1.8 V521.4z M898.68 521.4 v-22.75 h1.8 V521.4z M902.07 521.4 v-38.38 h1.8 V521.4z M908.85 521.4 v-20.25 h1.8 V521.4z M915.63 521.4 v-10.50 h1.8 V521.4z M925.81 521.4 v-19.38 h1.8 V521.4z M929.20 521.4 v-16.50 h1.8 V521.4z M932.59 521.4 v-28.12 h1.8 V521.4z M935.98 521.4 v-36.12 h1.8 V521.4z M942.76 521.4 v-18.38 h1.8 V521.4z M946.16 521.4 v-29.88 h1.8 V521.4z M952.94 521.4 v-25.25 h1.8 V521.4z" fill="#f7a9a7"/>
<clipPath id="ob"><rect x="11.5" y="521.9" width="1491.5" height="33.35"/></clipPath>
<clipPath id="os"><rect x="11.5" y="643.45" width="1491.5" height="25.35"/></clipPath>
<path d="M11.03 555.25 L11.03 605.97 L14.42 604.68 L17.81 613.24 L21.20 615.44 L24.59 615.44 L27.99 608.31 L31.38 597.41 L34.77 610.46 L38.16 606.01 L41.55 609.29 L44.94 631.91 L48.33 642.21 L51.73 654.12 L55.12 650.31 L58.51 651.75 L61.90 638.57 L65.29 596.84 L68.68 623.18 L72.07 617.68 L75.47 605.58 L78.86 608.26 L82.25 617.23 L85.64 619.64 L89.03 632.99 L92.42 637.70 L95.81 620.32 L99.21 617.10 L102.60 623.65 L105.99 613.35 L109.38 611.32 L112.77 617.15 L116.16 611.08 L119.55 615.19 L122.95 599.15 L126.34 608.72 L129.73 609.08 L133.12 609.82 L136.51 600.13 L139.90 594.91 L143.29 595.79 L146.69 597.72 L150.08 594.37 L153.47 606.89 L156.86 615.50 L160.25 616.34 L163.64 615.12 L167.03 602.33 L170.42 613.35 L173.82 609.83 L177.21 605.75 L180.60 607.88 L183.99 628.80 L187.38 624.36 L190.77 634.34 L194.16 602.95 L197.56 613.21 L200.95 598.51 L204.34 592.48 L207.73 598.07 L211.12 595.04 L214.51 598.58 L217.90 597.21 L221.30 592.21 L224.69 595.33 L228.08 593.81 L231.47 592.81 L234.86 580.92 L238.25 560.94 L241.64 559.43 L245.04 560.09 L248.43 558.09 L251.82 561.13 L255.21 565.01 L258.60 559.43 L261.99 565.93 L265.38 567.59 L268.78 557.77 L272.17 555.83 L275.56 566.35 L278.95 576.91 L282.34 574.81 L285.73 565.49 L289.12 564.55 L292.52 543.73 L295.91 547.06 L299.30 541.92 L302.69 548.75 L306.08 557.93 L309.47 553.62 L312.86 559.49 L316.25 557.89 L319.65 561.52 L323.04 563.40 L326.43 550.37 L329.82 558.67 L333.21 554.61 L336.60 544.79 L339.99 538.78 L343.39 572.26 L346.78 570.29 L350.17 565.66 L353.56 564.12 L356.95 567.98 L360.34 576.26 L363.73 590.00 L367.13 599.76 L370.52 595.10 L373.91 589.42 L377.30 588.87 L380.69 591.78 L384.08 597.60 L387.47 615.69 L390.87 598.59 L394.26 591.15 L397.65 590.60 L401.04 569.73 L404.43 569.73 L407.82 581.80 L411.21 597.88 L414.61 595.99 L418.00 599.62 L421.39 598.34 L424.78 591.57 L428.17 604.97 L431.56 602.96 L434.95 604.71 L438.35 612.51 L441.74 618.96 L445.13 624.51 L448.52 596.23 L451.91 591.88 L455.30 586.20 L458.69 588.77 L462.09 586.96 L465.48 585.64 L468.87 579.37 L472.26 590.27 L475.65 600.14 L479.04 581.71 L482.43 577.35 L485.82 589.52 L489.22 587.67 L492.61 581.65 L496.00 589.54 L499.39 585.07 L502.78 572.93 L506.17 554.34 L509.56 549.75 L512.96 552.28 L516.35 546.95 L519.74 544.44 L523.13 560.93 L526.52 557.81 L529.91 555.88 L533.30 567.17 L536.70 567.17 L540.09 570.81 L543.48 569.75 L546.87 558.10 L550.26 569.45 L553.65 572.26 L557.04 578.73 L560.44 577.44 L563.83 568.24 L567.22 580.77 L570.61 581.74 L574.00 583.63 L577.39 600.83 L580.78 616.62 L584.18 621.01 L587.57 608.03 L590.96 601.65 L594.35 608.26 L597.74 600.89 L601.13 584.71 L604.52 591.14 L607.92 593.53 L611.31 575.77 L614.70 580.82 L618.09 573.92 L621.48 559.23 L624.87 592.90 L628.26 597.40 L631.66 594.68 L635.05 597.14 L638.44 603.86 L641.83 620.19 L645.22 610.89 L648.61 619.95 L652.00 596.23 L655.39 603.06 L658.79 611.09 L662.18 623.76 L665.57 615.24 L668.96 617.50 L672.35 610.25 L675.74 625.55 L679.13 623.05 L682.53 625.32 L685.92 618.86 L689.31 608.44 L692.70 605.89 L696.09 610.68 L699.48 611.49 L702.87 613.82 L706.27 607.64 L709.66 601.59 L713.05 604.80 L716.44 589.79 L719.83 582.24 L723.22 579.87 L726.61 581.02 L730.01 585.90 L733.40 584.22 L736.79 576.33 L740.18 579.70 L743.57 575.02 L746.96 588.62 L750.35 585.73 L753.75 592.54 L757.14 611.67 L760.53 615.09 L763.92 603.93 L767.31 629.05 L770.70 621.42 L774.09 624.06 L777.49 604.44 L780.88 592.31 L784.27 595.26 L787.66 573.18 L791.05 566.15 L794.44 560.36 L797.83 560.02 L801.23 556.78 L804.62 552.59 L808.01 576.26 L811.40 568.23 L814.79 579.20 L818.18 616.73 L821.57 623.18 L824.96 605.54 L828.36 604.11 L831.75 611.77 L835.14 618.93 L838.53 626.70 L841.92 630.80 L845.31 627.61 L848.70 620.81 L852.10 612.28 L855.49 620.33 L858.88 622.12 L862.27 610.20 L865.66 605.77 L869.05 602.61 L872.44 589.90 L875.84 592.84 L879.23 598.31 L882.62 610.68 L886.01 616.93 L889.40 611.37 L892.79 608.03 L896.18 605.97 L899.58 622.53 L902.97 638.27 L906.36 625.31 L909.75 633.09 L913.14 622.94 L916.53 626.08 L919.92 614.92 L923.32 607.65 L926.71 618.95 L930.10 623.40 L933.49 629.60 L936.88 642.68 L940.27 636.71 L943.66 639.64 L947.06 644.95 L950.45 640.23 L953.84 643.47 L957.23 642.24 L957.23 555.25z" fill="#4caf50" fill-opacity="0.16" clip-path="url(#ob)"/>
<path d="M11.03 643.45 L11.03 605.97 L14.42 604.68 L17.81 613.24 L21.20 615.44 L24.59 615.44 L27.99 608.31 L31.38 597.41 L34.77 610.46 L38.16 606.01 L41.55 609.29 L44.94 631.91 L48.33 642.21 L51.73 654.12 L55.12 650.31 L58.51 651.75 L61.90 638.57 L65.29 596.84 L68.68 623.18 L72.07 617.68 L75.47 605.58 L78.86 608.26 L82.25 617.23 L85.64 619.64 L89.03 632.99 L92.42 637.70 L95.81 620.32 L99.21 617.10 L102.60 623.65 L105.99 613.35 L109.38 611.32 L112.77 617.15 L116.16 611.08 L119.55 615.19 L122.95 599.15 L126.34 608.72 L129.73 609.08 L133.12 609.82 L136.51 600.13 L139.90 594.91 L143.29 595.79 L146.69 597.72 L150.08 594.37 L153.47 606.89 L156.86 615.50 L160.25 616.34 L163.64 615.12 L167.03 602.33 L170.42 613.35 L173.82 609.83 L177.21 605.75 L180.60 607.88 L183.99 628.80 L187.38 624.36 L190.77 634.34 L194.16 602.95 L197.56 613.21 L200.95 598.51 L204.34 592.48 L207.73 598.07 L211.12 595.04 L214.51 598.58 L217.90 597.21 L221.30 592.21 L224.69 595.33 L228.08 593.81 L231.47 592.81 L234.86 580.92 L238.25 560.94 L241.64 559.43 L245.04 560.09 L248.43 558.09 L251.82 561.13 L255.21 565.01 L258.60 559.43 L261.99 565.93 L265.38 567.59 L268.78 557.77 L272.17 555.83 L275.56 566.35 L278.95 576.91 L282.34 574.81 L285.73 565.49 L289.12 564.55 L292.52 543.73 L295.91 547.06 L299.30 541.92 L302.69 548.75 L306.08 557.93 L309.47 553.62 L312.86 559.49 L316.25 557.89 L319.65 561.52 L323.04 563.40 L326.43 550.37 L329.82 558.67 L333.21 554.61 L336.60 544.79 L339.99 538.78 L343.39 572.26 L346.78 570.29 L350.17 565.66 L353.56 564.12 L356.95 567.98 L360.34 576.26 L363.73 590.00 L367.13 599.76 L370.52 595.10 L373.91 589.42 L377.30 588.87 L380.69 591.78 L384.08 597.60 L387.47 615.69 L390.87 598.59 L394.26 591.15 L397.65 590.60 L401.04 569.73 L404.43 569.73 L407.82 581.80 L411.21 597.88 L414.61 595.99 L418.00 599.62 L421.39 598.34 L424.78 591.57 L428.17 604.97 L431.56 602.96 L434.95 604.71 L438.35 612.51 L441.74 618.96 L445.13 624.51 L448.52 596.23 L451.91 591.88 L455.30 586.20 L458.69 588.77 L462.09 586.96 L465.48 585.64 L468.87 579.37 L472.26 590.27 L475.65 600.14 L479.04 581.71 L482.43 577.35 L485.82 589.52 L489.22 587.67 L492.61 581.65 L496.00 589.54 L499.39 585.07 L502.78 572.93 L506.17 554.34 L509.56 549.75 L512.96 552.28 L516.35 546.95 L519.74 544.44 L523.13 560.93 L526.52 557.81 L529.91 555.88 L533.30 567.17 L536.70 567.17 L540.09 570.81 L543.48 569.75 L546.87 558.10 L550.26 569.45 L553.65 572.26 L557.04 578.73 L560.44 577.44 L563.83 568.24 L567.22 580.77 L570.61 581.74 L574.00 583.63 L577.39 600.83 L580.78 616.62 L584.18 621.01 L587.57 608.03 L590.96 601.65 L594.35 608.26 L597.74 600.89 L601.13 584.71 L604.52 591.14 L607.92 593.53 L611.31 575.77 L614.70 580.82 L618.09 573.92 L621.48 559.23 L624.87 592.90 L628.26 597.40 L631.66 594.68 L635.05 597.14 L638.44 603.86 L641.83 620.19 L645.22 610.89 L648.61 619.95 L652.00 596.23 L655.39 603.06 L658.79 611.09 L662.18 623.76 L665.57 615.24 L668.96 617.50 L672.35 610.25 L675.74 625.55 L679.13 623.05 L682.53 625.32 L685.92 618.86 L689.31 608.44 L692.70 605.89 L696.09 610.68 L699.48 611.49 L702.87 613.82 L706.27 607.64 L709.66 601.59 L713.05 604.80 L716.44 589.79 L719.83 582.24 L723.22 579.87 L726.61 581.02 L730.01 585.90 L733.40 584.22 L736.79 576.33 L740.18 579.70 L743.57 575.02 L746.96 588.62 L750.35 585.73 L753.75 592.54 L757.14 611.67 L760.53 615.09 L763.92 603.93 L767.31 629.05 L770.70 621.42 L774.09 624.06 L777.49 604.44 L780.88 592.31 L784.27 595.26 L787.66 573.18 L791.05 566.15 L794.44 560.36 L797.83 560.02 L801.23 556.78 L804.62 552.59 L808.01 576.26 L811.40 568.23 L814.79 579.20 L818.18 616.73 L821.57 623.18 L824.96 605.54 L828.36 604.11 L831.75 611.77 L835.14 618.93 L838.53 626.70 L841.92 630.80 L845.31 627.61 L848.70 620.81 L852.10 612.28 L855.49 620.33 L858.88 622.12 L862.27 610.20 L865.66 605.77 L869.05 602.61 L872.44 589.90 L875.84 592.84 L879.23 598.31 L882.62 610.68 L886.01 616.93 L889.40 611.37 L892.79 608.03 L896.18 605.97 L899.58 622.53 L902.97 638.27 L906.36 625.31 L909.75 633.09 L913.14 622.94 L916.53 626.08 L919.92 614.92 L923.32 607.65 L926.71 618.95 L930.10 623.40 L933.49 629.60 L936.88 642.68 L940.27 636.71 L943.66 639.64 L947.06 644.95 L950.45 640.23 L953.84 643.47 L957.23 642.24 L957.23 643.45z" fill="#ff5252" fill-opacity="0.16" clip-path="url(#os)"/>
<path d="M11.03 609.27 L14.42 609.18 L17.81 610.02 L21.20 611.17 L24.59 612.00 L27.99 612.01 L31.38 611.08 L34.77 610.93 L38.16 610.31 L41.55 609.76 L44.94 610.98 L48.33 613.10 L51.73 616.06 L55.12 618.91 L58.51 622.19 L61.90 624.61 L65.29 623.43 L68.68 623.99 L72.07 624.15 L75.47 623.95 L78.86 624.73 L82.25 625.21 L85.64 626.18 L89.03 627.88 L92.42 628.29 L95.81 626.73 L99.21 624.08 L102.60 622.18 L105.99 619.43 L109.38 617.49 L112.77 618.94 L116.16 618.08 L119.55 617.90 L122.95 617.44 L126.34 617.47 L129.73 616.89 L133.12 616.19 L136.51 613.84 L139.90 610.78 L143.29 609.03 L146.69 607.65 L150.08 605.56 L153.47 605.09 L156.86 605.39 L160.25 605.33 L163.64 605.62 L167.03 604.70 L170.42 605.72 L173.82 605.80 L177.21 605.56 L180.60 605.42 L183.99 607.47 L187.38 609.57 L190.77 612.33 L194.16 612.70 L197.56 614.05 L200.95 613.45 L204.34 611.80 L207.73 610.50 L211.12 609.06 L214.51 608.79 L217.90 607.64 L221.30 606.38 L224.69 605.64 L228.08 604.63 L231.47 602.06 L234.86 598.96 L238.25 593.72 L241.64 590.61 L245.04 586.82 L248.43 583.93 L251.82 581.69 L255.21 579.33 L258.60 576.79 L261.99 574.45 L265.38 572.34 L268.78 569.88 L272.17 567.06 L275.56 565.09 L278.95 563.96 L282.34 563.52 L285.73 563.85 L289.12 564.21 L292.52 563.04 L295.91 562.26 L299.30 560.88 L302.69 559.72 L306.08 559.62 L309.47 558.74 L312.86 558.16 L316.25 558.17 L319.65 558.57 L323.04 558.36 L326.43 556.47 L329.82 555.31 L333.21 554.54 L336.60 553.12 L339.99 552.77 L343.39 554.57 L346.78 556.60 L350.17 557.81 L353.56 558.25 L356.95 559.27 L360.34 560.47 L363.73 562.77 L367.13 565.50 L370.52 567.76 L373.91 570.55 L377.30 572.71 L380.69 575.36 L384.08 579.14 L387.47 584.63 L390.87 586.51 L394.26 588.00 L397.65 589.78 L401.04 590.18 L404.43 590.31 L407.82 590.70 L411.21 591.26 L414.61 591.00 L418.00 591.32 L421.39 591.96 L424.78 592.15 L428.17 593.09 L431.56 593.47 L434.95 592.69 L438.35 593.68 L441.74 595.67 L445.13 598.09 L448.52 599.98 L451.91 601.57 L455.30 601.88 L458.69 601.23 L462.09 600.58 L465.48 599.59 L468.87 598.23 L472.26 598.14 L475.65 597.79 L479.04 596.28 L482.43 594.32 L485.82 592.68 L489.22 590.44 L492.61 587.38 L496.00 586.90 L499.39 586.42 L502.78 585.47 L506.17 583.01 L509.56 580.35 L512.96 577.97 L516.35 575.66 L519.74 572.38 L523.13 569.58 L526.52 567.87 L529.91 566.34 L533.30 564.74 L536.70 563.28 L540.09 562.50 L543.48 561.09 L546.87 559.16 L550.26 558.92 L553.65 560.20 L557.04 562.27 L560.44 564.06 L563.83 565.58 L567.22 568.18 L570.61 569.66 L574.00 571.51 L577.39 574.72 L580.78 578.25 L584.18 582.10 L587.57 584.76 L590.96 587.04 L594.35 590.62 L597.74 592.86 L601.13 593.75 L604.52 594.64 L607.92 595.79 L611.31 596.33 L614.70 596.33 L618.09 595.77 L621.48 594.03 L624.87 593.46 L628.26 592.09 L631.66 590.21 L635.05 589.43 L638.44 589.59 L641.83 590.44 L645.22 591.15 L648.61 593.67 L652.00 594.04 L655.39 594.72 L658.79 597.24 L662.18 600.31 L665.57 603.26 L668.96 607.42 L672.35 608.66 L675.74 610.67 L679.13 612.70 L682.53 614.71 L685.92 615.78 L689.31 614.94 L692.70 614.58 L696.09 613.92 L699.48 615.01 L702.87 615.78 L706.27 615.53 L709.66 613.95 L713.05 613.20 L716.44 611.23 L719.83 609.23 L723.22 605.96 L726.61 602.96 L730.01 600.15 L733.40 597.67 L736.79 595.38 L740.18 593.51 L743.57 590.96 L746.96 589.33 L750.35 587.32 L753.75 586.24 L757.14 586.96 L760.53 587.70 L763.92 588.71 L767.31 592.05 L770.70 595.02 L774.09 598.09 L777.49 599.41 L780.88 599.99 L784.27 601.34 L787.66 600.88 L791.05 600.25 L794.44 598.23 L797.83 596.39 L801.23 593.84 L804.62 589.62 L808.01 586.84 L811.40 584.29 L814.79 580.73 L818.18 580.40 L821.57 580.34 L824.96 580.41 L828.36 581.26 L831.75 582.44 L835.14 585.70 L838.53 590.03 L841.92 595.06 L845.31 599.89 L848.70 604.46 L852.10 608.73 L855.49 611.87 L858.88 615.72 L862.27 617.94 L865.66 617.15 L869.05 615.68 L872.44 614.57 L875.84 613.76 L879.23 612.80 L882.62 612.21 L886.01 611.51 L889.40 610.13 L892.79 608.73 L896.18 607.67 L899.58 608.40 L902.97 609.68 L906.36 609.91 L909.75 611.54 L913.14 612.77 L916.53 614.45 L919.92 616.23 L923.32 617.29 L926.71 618.77 L930.10 619.67 L933.49 620.58 L936.88 622.82 L940.27 624.86 L943.66 627.27 L947.06 628.87 L950.45 629.01 L953.84 630.31 L957.23 630.96" stroke="#fdd835" stroke-width="1.4" stroke-linejoin="round" fill="none"/>
<path d="M11.03 605.97 L14.42 604.68 L17.81 613.24 L21.20 615.44 L24.59 615.44 L27.99 608.31 L31.38 597.41 L34.77 610.46 L38.16 606.01 L41.55 609.29 L44.94 631.91 L48.33 642.21 L51.73 654.12 L55.12 650.31 L58.51 651.75 L61.90 638.57 L65.29 596.84 L68.68 623.18 L72.07 617.68 L75.47 605.58 L78.86 608.26 L82.25 617.23 L85.64 619.64 L89.03 632.99 L92.42 637.70 L95.81 620.32 L99.21 617.10 L102.60 623.65 L105.99 613.35 L109.38 611.32 L112.77 617.15 L116.16 611.08 L119.55 615.19 L122.95 599.15 L126.34 608.72 L129.73 609.08 L133.12 609.82 L136.51 600.13 L139.90 594.91 L143.29 595.79 L146.69 597.72 L150.08 594.37 L153.47 606.89 L156.86 615.50 L160.25 616.34 L163.64 615.12 L167.03 602.33 L170.42 613.35 L173.82 609.83 L177.21 605.75 L180.60 607.88 L183.99 628.80 L187.38 624.36 L190.77 634.34 L194.16 602.95 L197.56 613.21 L200.95 598.51 L204.34 592.48 L207.73 598.07 L211.12 595.04 L214.51 598.58 L217.90 597.21 L221.30 592.21 L224.69 595.33 L228.08 593.81 L231.47 592.81 L234.86 580.92 L238.25 560.94 L241.64 559.43 L245.04 560.09 L248.43 558.09 L251.82 561.13 L255.21 565.01 L258.60 559.43 L261.99 565.93 L265.38 567.59 L268.78 557.77 L272.17 555.83 L275.56 566.35 L278.95 576.91 L282.34 574.81 L285.73 565.49 L289.12 564.55 L292.52 543.73 L295.91 547.06 L299.30 541.92 L302.69 548.75 L306.08 557.93 L309.47 553.62 L312.86 559.49 L316.25 557.89 L319.65 561.52 L323.04 563.40 L326.43 550.37 L329.82 558.67 L333.21 554.61 L336.60 544.79 L339.99 538.78 L343.39 572.26 L346.78 570.29 L350.17 565.66 L353.56 564.12 L356.95 567.98 L360.34 576.26 L363.73 590.00 L367.13 599.76 L370.52 595.10 L373.91 589.42 L377.30 588.87 L380.69 591.78 L384.08 597.60 L387.47 615.69 L390.87 598.59 L394.26 591.15 L397.65 590.60 L401.04 569.73 L404.43 569.73 L407.82 581.80 L411.21 597.88 L414.61 595.99 L418.00 599.62 L421.39 598.34 L424.78 591.57 L428.17 604.97 L431.56 602.96 L434.95 604.71 L438.35 612.51 L441.74 618.96 L445.13 624.51 L448.52 596.23 L451.91 591.88 L455.30 586.20 L458.69 588.77 L462.09 586.96 L465.48 585.64 L468.87 579.37 L472.26 590.27 L475.65 600.14 L479.04 581.71 L482.43 577.35 L485.82 589.52 L489.22 587.67 L492.61 581.65 L496.00 589.54 L499.39 585.07 L502.78 572.93 L506.17 554.34 L509.56 549.75 L512.96 552.28 L516.35 546.95 L519.74 544.44 L523.13 560.93 L526.52 557.81 L529.91 555.88 L533.30 567.17 L536.70 567.17 L540.09 570.81 L543.48 569.75 L546.87 558.10 L550.26 569.45 L553.65 572.26 L557.04 578.73 L560.44 577.44 L563.83 568.24 L567.22 580.77 L570.61 581.74 L574.00 583.63 L577.39 600.83 L580.78 616.62 L584.18 621.01 L587.57 608.03 L590.96 601.65 L594.35 608.26 L597.74 600.89 L601.13 584.71 L604.52 591.14 L607.92 593.53 L611.31 575.77 L614.70 580.82 L618.09 573.92 L621.48 559.23 L624.87 592.90 L628.26 597.40 L631.66 594.68 L635.05 597.14 L638.44 603.86 L641.83 620.19 L645.22 610.89 L648.61 619.95 L652.00 596.23 L655.39 603.06 L658.79 611.09 L662.18 623.76 L665.57 615.24 L668.96 617.50 L672.35 610.25 L675.74 625.55 L679.13 623.05 L682.53 625.32 L685.92 618.86 L689.31 608.44 L692.70 605.89 L696.09 610.68 L699.48 611.49 L702.87 613.82 L706.27 607.64 L709.66 601.59 L713.05 604.80 L716.44 589.79 L719.83 582.24 L723.22 579.87 L726.61 581.02 L730.01 585.90 L733.40 584.22 L736.79 576.33 L740.18 579.70 L743.57 575.02 L746.96 588.62 L750.35 585.73 L753.75 592.54 L757.14 611.67 L760.53 615.09 L763.92 603.93 L767.31 629.05 L770.70 621.42 L774.09 624.06 L777.49 604.44 L780.88 592.31 L784.27 595.26 L787.66 573.18 L791.05 566.15 L794.44 560.36 L797.83 560.02 L801.23 556.78 L804.62 552.59 L808.01 576.26 L811.40 568.23 L814.79 579.20 L818.18 616.73 L821.57 623.18 L824.96 605.54 L828.36 604.11 L831.75 611.77 L835.14 618.93 L838.53 626.70 L841.92 630.80 L845.31 627.61 L848.70 620.81 L852.10 612.28 L855.49 620.33 L858.88 622.12 L862.27 610.20 L865.66 605.77 L869.05 602.61 L872.44 589.90 L875.84 592.84 L879.23 598.31 L882.62 610.68 L886.01 616.93 L889.40 611.37 L892.79 608.03 L896.18 605.97 L899.58 622.53 L902.97 638.27 L906.36 625.31 L909.75 633.09 L913.14 622.94 L916.53 626.08 L919.92 614.92 L923.32 607.65 L926.71 618.95 L930.10 623.40 L933.49 629.60 L936.88 642.68 L940.27 636.71 L943.66 639.64 L947.06 644.95 L950.45 640.23 L953.84 643.47 L957.23 642.24" stroke="#7e57c2" stroke-width="1.4" stroke-linejoin="round" fill="none"/>
</g>
<path d="M11.5 450.6 H1588.5 M11.5 521.9 H1588.5" stroke="#e0e3eb" stroke-width="1.33" fill="none"/>
<rect x="11.5" y="30.5" width="1577.0" height="668.5" fill="none" stroke="#ebebed" stroke-width="1.6"/>
<text x="11.25" y="22.2" font-family="'Liberation Sans', sans-serif" font-size="13.3" fill="#131722" font-weight="normal" text-anchor="start" textLength="63.75" lengthAdjust="spacingAndGlyphs">M_MTrades</text>
<text x="79" y="22.2" font-family="'Liberation Sans', sans-serif" font-size="13.3" fill="#131722" font-weight="normal" text-anchor="start" textLength="45.5" lengthAdjust="spacingAndGlyphs">created</text>
<text x="129.3" y="22.2" font-family="'Liberation Sans', sans-serif" font-size="13.3" fill="#131722" font-weight="normal" text-anchor="start" textLength="25.5" lengthAdjust="spacingAndGlyphs">with</text>
<text x="159.5" y="22.2" font-family="'Liberation Sans', sans-serif" font-size="13.3" fill="#131722" font-weight="normal" text-anchor="start" textLength="102.5" lengthAdjust="spacingAndGlyphs">TradingView.com,</text>
<text x="268.3" y="22.2" font-family="'Liberation Sans', sans-serif" font-size="13.3" fill="#131722" font-weight="normal" text-anchor="start" textLength="21.5" lengthAdjust="spacingAndGlyphs">Nov</text>
<text x="294.25" y="22.2" font-family="'Liberation Sans', sans-serif" font-size="13.3" fill="#131722" font-weight="normal" text-anchor="start" textLength="17.25" lengthAdjust="spacingAndGlyphs">20,</text>
<text x="316.75" y="22.2" font-family="'Liberation Sans', sans-serif" font-size="13.3" fill="#131722" font-weight="normal" text-anchor="start" textLength="27.5" lengthAdjust="spacingAndGlyphs">2025</text>
<text x="349.3" y="22.2" font-family="'Liberation Sans', sans-serif" font-size="13.3" fill="#131722" font-weight="normal" text-anchor="start" textLength="31.2" lengthAdjust="spacingAndGlyphs">15:28</text>
<text x="385" y="22.2" font-family="'Liberation Sans', sans-serif" font-size="13.3" fill="#131722" font-weight="normal" text-anchor="start" textLength="56.7" lengthAdjust="spacingAndGlyphs">UTC+5:30</text>
<text x="20.5" y="52.2" font-family="'Liberation Sans', sans-serif" font-size="13.3" fill="#131722" font-weight="normal" text-anchor="start" textLength="40.5" lengthAdjust="spacingAndGlyphs">Bitcoin</text>
<text x="66.7" y="52.2" font-family="'Liberation Sans', sans-serif" font-size="13.3" fill="#131722" font-weight="normal" text-anchor="start" textLength="5.1" lengthAdjust="spacingAndGlyphs">/</text>
<text x="77" y="52.2" font-family="'Liberation Sans', sans-serif" font-size="13.3" fill="#131722" font-weight="normal" text-anchor="start" textLength="52.25" lengthAdjust="spacingAndGlyphs">TetherUS</text>
<text x="134.2" y="52.2" font-family="'Liberation Sans', sans-serif" font-size="13.3" fill="#131722" font-weight="normal" text-anchor="start" textLength="2.8" lengthAdjust="spacingAndGlyphs">·</text>
<text x="143.2" y="52.2" font-family="'Liberation Sans', sans-serif" font-size="13.3" fill="#131722" font-weight="normal" text-anchor="start" textLength="13.05" lengthAdjust="spacingAndGlyphs">1D</text>
<text x="162.0" y="52.2" font-family="'Liberation Sans', sans-serif" font-size="13.3" fill="#131722" font-weight="normal" text-anchor="start" textLength="2.8" lengthAdjust="spacingAndGlyphs">·</text>
<text x="170.5" y="52.2" font-family="'Liberation Sans', sans-serif" font-size="13.3" fill="#131722" font-weight="normal" text-anchor="start" textLength="45.75" lengthAdjust="spacingAndGlyphs">Binance</text>
<text x="224.8" y="52.2" font-family="'Liberation Sans', sans-serif" font-size="13.3" fill="#131722" font-weight="normal" text-anchor="start" textLength="8.6" lengthAdjust="spacingAndGlyphs">O</text>
<text x="233.5" y="52.2" font-family="'Liberation Sans', sans-serif" font-size="13.3" fill="#089981" font-weight="normal" text-anchor="start" textLength="57.3" lengthAdjust="spacingAndGlyphs">91,554.96</text>
<text x="300.4" y="52.2" font-family="'Liberation Sans', sans-serif" font-size="13.3" fill="#131722" font-weight="normal" text-anchor="start" textLength="8.2" lengthAdjust="spacingAndGlyphs">H</text>
<text x="308.6" y="52.2" font-family="'Liberation Sans', sans-serif" font-size="13.3" fill="#089981" font-weight="normal" text-anchor="start" textLength="57.8" lengthAdjust="spacingAndGlyphs">93,160.00</text>
<text x="375.5" y="52.2" font-family="'Liberation Sans', sans-serif" font-size="13.3" fill="#131722" font-weight="normal" text-anchor="start" textLength="6" lengthAdjust="spacingAndGlyphs">L</text>
<text x="381.5" y="52.2" font-family="'Liberation Sans', sans-serif" font-size="13.3" fill="#089981" font-weight="normal" text-anchor="start" textLength="57.8" lengthAdjust="spacingAndGlyphs">91,185.26</text>
<text x="447.5" y="52.2" font-family="'Liberation Sans', sans-serif" font-size="13.3" fill="#131722" font-weight="normal" text-anchor="start" textLength="8.3" lengthAdjust="spacingAndGlyphs">C</text>
<text x="455.8" y="52.2" font-family="'Liberation Sans', sans-serif" font-size="13.3" fill="#089981" font-weight="normal" text-anchor="start" textLength="57.2" lengthAdjust="spacingAndGlyphs">91,889.55</text>
<text x="521.8" y="52.2" font-family="'Liberation Sans', sans-serif" font-size="13.3" fill="#089981" font-weight="normal" text-anchor="start" textLength="100.4" lengthAdjust="spacingAndGlyphs">+334.59 (+0.37%)</text>
<rect x="1507" y="34.4" width="78.6" height="28.4" rx="4" fill="#fff" stroke="#e0e3eb" stroke-width="1.33"/>
<text x="1517.5" y="52.6" font-family="'Liberation Sans', sans-serif" font-size="13.3" fill="#131722" font-weight="normal" text-anchor="start" textLength="30" lengthAdjust="spacingAndGlyphs">USDT</text>
<text x="1513.3" y="115.94" font-family="'Liberation Sans', sans-serif" font-size="13.3" fill="#131722" font-weight="normal" text-anchor="start" textLength="64.7" lengthAdjust="spacingAndGlyphs">130,000.00</text>
<text x="1513.3" y="231.52" font-family="'Liberation Sans', sans-serif" font-size="13.3" fill="#131722" font-weight="normal" text-anchor="start" textLength="64.7" lengthAdjust="spacingAndGlyphs">110,000.00</text>
<text x="1513.3" y="289.31" font-family="'Liberation Sans', sans-serif" font-size="13.3" fill="#131722" font-weight="normal" text-anchor="start" textLength="64.7" lengthAdjust="spacingAndGlyphs">100,000.00</text>
<text x="1513.3" y="404.89" font-family="'Liberation Sans', sans-serif" font-size="13.3" fill="#131722" font-weight="normal" text-anchor="start" textLength="58.2" lengthAdjust="spacingAndGlyphs">80,000.00</text>
<text x="1513" y="487.7" font-family="'Liberation Sans', sans-serif" font-size="13.3" fill="#131722" font-weight="normal" text-anchor="start" textLength="23.7" lengthAdjust="spacingAndGlyphs">50K</text>
<text x="1513" y="537.8000000000001" font-family="'Liberation Sans', sans-serif" font-size="13.3" fill="#131722" font-weight="normal" text-anchor="start" textLength="33" lengthAdjust="spacingAndGlyphs">80.00</text>
<text x="1513" y="581.9000000000001" font-family="'Liberation Sans', sans-serif" font-size="13.3" fill="#131722" font-weight="normal" text-anchor="start" textLength="33" lengthAdjust="spacingAndGlyphs">60.00</text>
<clipPath id="c20"><rect x="1504" y="640" width="84" height="28.799999999999955"/></clipPath>
<text x="1513" y="670.1" font-family="'Liberation Sans', sans-serif" font-size="13.3" fill="#131722" font-weight="normal" text-anchor="start" textLength="33" lengthAdjust="spacingAndGlyphs" clip-path="url(#c20)">20.00</text>
<text x="1495" y="127" font-family="'Liberation Sans', sans-serif" font-size="13.3" fill="#4caf50" font-weight="bold" text-anchor="end" textLength="54.5" lengthAdjust="spacingAndGlyphs">New ATH</text>
<text x="1495" y="163" font-family="'Liberation Sans', sans-serif" font-size="13.3" fill="#2962ff" font-weight="bold" text-anchor="end" textLength="115.8" lengthAdjust="spacingAndGlyphs">Psychological level</text>
<text x="1494.6" y="292.7" font-family="'Liberation Sans', sans-serif" font-size="13.3" fill="#f23645" font-weight="bold" text-anchor="end" textLength="53.2" lengthAdjust="spacingAndGlyphs">Daily S/R</text>
<rect x="1504" y="125.30" width="81" height="18.2" rx="1.5" fill="#4caf50"/>
<text x="1514.5" y="138.40" font-family="'Liberation Sans', sans-serif" font-size="13.3" fill="#fff" font-weight="bold" text-anchor="start" textLength="64" lengthAdjust="spacingAndGlyphs">126,199.63</text>
<rect x="1504" y="161.13" width="81" height="18.2" rx="1.5" fill="#2962ff"/>
<text x="1514.5" y="174.23" font-family="'Liberation Sans', sans-serif" font-size="13.3" fill="#fff" font-weight="bold" text-anchor="start" textLength="64" lengthAdjust="spacingAndGlyphs">120,000.00</text>
<rect x="1504" y="237.14" width="81" height="18.2" rx="1.5" fill="#000"/>
<text x="1514.5" y="250.24" font-family="'Liberation Sans', sans-serif" font-size="13.3" fill="#fff" font-weight="bold" text-anchor="start" textLength="64" lengthAdjust="spacingAndGlyphs">106,847.91</text>
<rect x="1504" y="291.39" width="73" height="18.2" rx="1.5" fill="#f23645"/>
<text x="1514.5" y="304.49" font-family="'Liberation Sans', sans-serif" font-size="13.3" fill="#fff" font-weight="bold" text-anchor="start" textLength="57.7" lengthAdjust="spacingAndGlyphs">97,460.00</text>
<rect x="1504" y="323.9" width="73" height="34.5" rx="1.5" fill="#089981"/>
<text x="1514.5" y="336.7" font-family="'Liberation Sans', sans-serif" font-size="13.3" fill="#fff" font-weight="bold" text-anchor="start" textLength="57.7" lengthAdjust="spacingAndGlyphs">91,889.55</text>
<text x="1514.7" y="352.4" font-family="'Liberation Sans', sans-serif" font-size="13.3" fill="#fff" font-weight="normal" text-anchor="start" textLength="49.3" lengthAdjust="spacingAndGlyphs" fill-opacity="0.8">14:01:47</text>
<rect x="1504" y="358.40" width="73" height="18.1" rx="1.5" fill="#9c27b0"/>
<text x="1514.5" y="371.50" font-family="'Liberation Sans', sans-serif" font-size="13.3" fill="#fff" font-weight="bold" text-anchor="start" textLength="57.7" lengthAdjust="spacingAndGlyphs">90,000.00</text>
<rect x="1504" y="376.40" width="73" height="18.3" rx="1.5" fill="#f23645"/>
<text x="1514.5" y="389.50" font-family="'Liberation Sans', sans-serif" font-size="13.3" fill="#fff" font-weight="bold" text-anchor="start" textLength="57.7" lengthAdjust="spacingAndGlyphs">85,000.00</text>
<rect x="1504" y="428.58" width="73" height="18.2" rx="1.5" fill="#9c27b0"/>
<text x="1514.5" y="441.68" font-family="'Liberation Sans', sans-serif" font-size="13.3" fill="#fff" font-weight="bold" text-anchor="start" textLength="57.7" lengthAdjust="spacingAndGlyphs">73,719.53</text>
<rect x="1504" y="503.40" width="51" height="18" rx="1.5" fill="#26a69a"/>
<text x="1514.5" y="516.50" font-family="'Liberation Sans', sans-serif" font-size="13.3" fill="#fff" font-weight="bold" text-anchor="start" textLength="35" lengthAdjust="spacingAndGlyphs">9.47K</text>
<rect x="1504" y="615.5" width="47.5" height="18.2" rx="1.5" fill="#fdd835"/>
<text x="1514" y="629" font-family="'Liberation Sans', sans-serif" font-size="13.3" fill="#000" font-weight="normal" text-anchor="start" textLength="33" lengthAdjust="spacingAndGlyphs">35.29</text>
<rect x="1504" y="634.3" width="47.5" height="18.4" rx="1.5" fill="#7e57c2"/>
<text x="1514" y="647.6" font-family="'Liberation Sans', sans-serif" font-size="13.3" fill="#fff" font-weight="bold" text-anchor="start" textLength="33" lengthAdjust="spacingAndGlyphs">30.09</text>
<text x="62.4" y="688.8" font-family="'Liberation Sans', sans-serif" font-size="13.3" fill="#131722" font-weight="normal" text-anchor="middle">Mar</text>
<text x="167.5" y="688.8" font-family="'Liberation Sans', sans-serif" font-size="13.3" fill="#131722" font-weight="normal" text-anchor="middle">Apr</text>
<text x="269.3" y="688.8" font-family="'Liberation Sans', sans-serif" font-size="13.3" fill="#131722" font-weight="normal" text-anchor="middle">May</text>
<text x="374.4" y="688.8" font-family="'Liberation Sans', sans-serif" font-size="13.3" fill="#131722" font-weight="normal" text-anchor="middle">Jun</text>
<text x="476.2" y="688.8" font-family="'Liberation Sans', sans-serif" font-size="13.3" fill="#131722" font-weight="normal" text-anchor="middle">Jul</text>
<text x="581.3" y="688.8" font-family="'Liberation Sans', sans-serif" font-size="13.3" fill="#131722" font-weight="normal" text-anchor="middle">Aug</text>
<text x="686.4" y="688.8" font-family="'Liberation Sans', sans-serif" font-size="13.3" fill="#131722" font-weight="normal" text-anchor="middle">Sep</text>
<text x="788.2" y="688.8" font-family="'Liberation Sans', sans-serif" font-size="13.3" fill="#131722" font-weight="normal" text-anchor="middle">Oct</text>
<text x="893.3" y="688.8" font-family="'Liberation Sans', sans-serif" font-size="13.3" fill="#131722" font-weight="normal" text-anchor="middle">Nov</text>
<text x="995.0" y="688.8" font-family="'Liberation Sans', sans-serif" font-size="13.3" fill="#131722" font-weight="normal" text-anchor="middle">Dec</text>
<text x="1100.2" y="688.8" font-family="'Liberation Sans', sans-serif" font-size="13.3" fill="#131722" font-weight="bold" text-anchor="middle">2026</text>
<text x="1205.3" y="688.8" font-family="'Liberation Sans', sans-serif" font-size="13.3" fill="#131722" font-weight="normal" text-anchor="middle">Feb</text>
<text x="1300.3" y="688.8" font-family="'Liberation Sans', sans-serif" font-size="13.3" fill="#131722" font-weight="normal" text-anchor="middle">Mar</text>
<text x="1405.4" y="688.8" font-family="'Liberation Sans', sans-serif" font-size="13.3" fill="#131722" font-weight="normal" text-anchor="middle">Apr</text>
<g fill="#15171c"><path d="M13.5 723.75 H26.9 V740.25 H20 V730 H13.5z"/><circle cx="32.3" cy="726.9" r="3.15"/><path d="M38.1 723.75 H46.9 L41.25 740.25 H32.25z"/></g>
<text x="54.6" y="740.25" font-family="'Liberation Sans', sans-serif" font-size="23" fill="#131722" font-weight="bold" text-anchor="start" textLength="133.5" lengthAdjust="spacingAndGlyphs">TradingView</text></svg>
</body></html>
